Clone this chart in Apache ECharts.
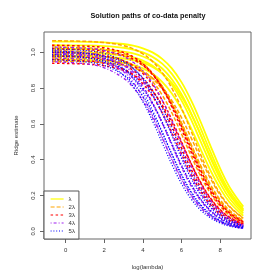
<!DOCTYPE html>
<html><head><meta charset="utf-8">
<script src="https://cdn.jsdelivr.net/npm/echarts@6/dist/echarts.min.js"></script>
<style>html,body{margin:0;padding:0;background:#fff}#c{width:280px;height:280px}</style>
</head><body><div id="c"></div>
<script>
// log(lambda) grid at which the paths are read
const xs = [-0.7, 1, 2, 3, 3.5, 4, 4.5, 5, 5.5, 6, 6.5, 7, 7.5, 8, 8.5, 9.2];
const groupNames = ['λ', '2λ', '3λ', '4λ', '5λ'];
const xTicks = [0, 2, 4, 6, 8];
const yTicks = [0, 0.2, 0.4, 0.6, 0.8, 1.0];
const titleText = 'Solution paths of co-data penalty';
const xName = 'log(lambda)';
const yName = 'Ridge estimate';

const pathsL1 = [
  [1.060, 1.058, 1.055, 1.046, 1.037, 1.022, 0.999, 0.963, 0.910, 0.833, 0.731, 0.609, 0.477, 0.352, 0.245, 0.138],
  [0.980, 0.978, 0.975, 0.965, 0.956, 0.942, 0.918, 0.882, 0.829, 0.753, 0.655, 0.539, 0.417, 0.304, 0.210, 0.117],
  [1.020, 1.018, 1.014, 1.003, 0.993, 0.976, 0.950, 0.909, 0.849, 0.765, 0.659, 0.536, 0.409, 0.295, 0.202, 0.111],
  [1.000, 0.998, 0.993, 0.982, 0.971, 0.953, 0.924, 0.881, 0.818, 0.731, 0.623, 0.500, 0.378, 0.269, 0.182, 0.100],
  [0.960, 0.957, 0.953, 0.941, 0.929, 0.910, 0.880, 0.835, 0.770, 0.682, 0.575, 0.456, 0.340, 0.240, 0.161, 0.087],
  [1.040, 1.038, 1.034, 1.025, 1.015, 0.999, 0.974, 0.936, 0.879, 0.799, 0.695, 0.572, 0.443, 0.322, 0.223, 0.124]
];
const pathsL2 = [
  [1.064, 1.061, 1.054, 1.037, 1.019, 0.991, 0.949, 0.886, 0.799, 0.688, 0.559, 0.427, 0.308, 0.211, 0.139, 0.074],
  [0.969, 0.966, 0.959, 0.942, 0.924, 0.896, 0.854, 0.793, 0.709, 0.604, 0.485, 0.366, 0.261, 0.177, 0.116, 0.061],
  [1.009, 1.005, 0.998, 0.977, 0.957, 0.926, 0.879, 0.810, 0.718, 0.605, 0.480, 0.358, 0.252, 0.170, 0.110, 0.058],
  [1.029, 1.025, 1.016, 0.993, 0.971, 0.936, 0.884, 0.809, 0.711, 0.592, 0.464, 0.342, 0.238, 0.159, 0.103, 0.054],
  [0.949, 0.947, 0.941, 0.927, 0.913, 0.890, 0.855, 0.803, 0.730, 0.635, 0.522, 0.404, 0.295, 0.203, 0.135, 0.072],
  [0.989, 0.985, 0.975, 0.951, 0.928, 0.891, 0.837, 0.761, 0.662, 0.544, 0.421, 0.307, 0.212, 0.140, 0.090, 0.047]
];
const pathsL3 = [
  [1.039, 1.034, 1.025, 0.999, 0.974, 0.936, 0.879, 0.799, 0.695, 0.572, 0.443, 0.322, 0.223, 0.148, 0.095, 0.049],
  [0.939, 0.934, 0.925, 0.899, 0.875, 0.837, 0.782, 0.705, 0.607, 0.494, 0.377, 0.272, 0.186, 0.122, 0.078, 0.041],
  [0.999, 0.993, 0.982, 0.953, 0.924, 0.881, 0.818, 0.731, 0.623, 0.500, 0.378, 0.269, 0.182, 0.119, 0.076, 0.039],
  [0.979, 0.973, 0.961, 0.929, 0.898, 0.853, 0.786, 0.697, 0.587, 0.466, 0.347, 0.245, 0.165, 0.107, 0.068, 0.035],
  [1.019, 1.015, 1.006, 0.984, 0.962, 0.927, 0.875, 0.802, 0.704, 0.586, 0.459, 0.338, 0.236, 0.158, 0.102, 0.053],
  [0.959, 0.952, 0.939, 0.905, 0.873, 0.824, 0.754, 0.662, 0.551, 0.432, 0.319, 0.222, 0.148, 0.096, 0.060, 0.031]
];
const pathsL4 = [
  [1.029, 1.022, 1.010, 0.976, 0.944, 0.896, 0.826, 0.732, 0.617, 0.489, 0.365, 0.257, 0.173, 0.112, 0.071, 0.037],
  [0.988, 0.981, 0.966, 0.928, 0.891, 0.837, 0.761, 0.662, 0.544, 0.421, 0.307, 0.212, 0.140, 0.090, 0.057, 0.029],
  [0.968, 0.959, 0.942, 0.896, 0.854, 0.793, 0.709, 0.604, 0.485, 0.366, 0.261, 0.177, 0.116, 0.074, 0.046, 0.023],
  [1.008, 0.998, 0.977, 0.926, 0.879, 0.810, 0.718, 0.605, 0.480, 0.358, 0.252, 0.170, 0.110, 0.070, 0.044, 0.022],
  [0.947, 0.936, 0.913, 0.855, 0.803, 0.730, 0.635, 0.522, 0.404, 0.295, 0.203, 0.135, 0.087, 0.054, 0.034, 0.017],
  [0.997, 0.984, 0.957, 0.891, 0.832, 0.750, 0.646, 0.525, 0.401, 0.289, 0.198, 0.130, 0.083, 0.052, 0.032, 0.016]
];
const pathsL5 = [
  [0.999, 0.992, 0.978, 0.943, 0.909, 0.858, 0.786, 0.690, 0.574, 0.450, 0.332, 0.232, 0.155, 0.100, 0.063, 0.032],
  [1.018, 1.010, 0.993, 0.950, 0.909, 0.849, 0.765, 0.659, 0.536, 0.409, 0.295, 0.202, 0.133, 0.085, 0.053, 0.027],
  [0.978, 0.969, 0.951, 0.906, 0.863, 0.801, 0.716, 0.610, 0.490, 0.370, 0.264, 0.179, 0.117, 0.074, 0.046, 0.024],
  [0.958, 0.947, 0.926, 0.873, 0.824, 0.754, 0.662, 0.551, 0.432, 0.319, 0.222, 0.148, 0.096, 0.060, 0.038, 0.019],
  [1.007, 0.995, 0.970, 0.909, 0.854, 0.776, 0.675, 0.555, 0.430, 0.313, 0.216, 0.143, 0.092, 0.058, 0.036, 0.018],
  [0.987, 0.972, 0.943, 0.872, 0.809, 0.724, 0.616, 0.495, 0.374, 0.266, 0.181, 0.118, 0.075, 0.047, 0.029, 0.015]
];
const groups = [pathsL1, pathsL2, pathsL3, pathsL4, pathsL5];

// styles
const styles = [
  { color: '#FFFF00', type: 'solid', width: 1.8 },
  { color: '#FFA500', type: [4, 2], width: 1.5 },
  { color: '#FF0000', type: [2.5, 2.5], width: 1.5 },
  { color: '#A020F0', type: [1, 2, 3, 2], width: 1.3 },
  { color: '#0000FF', type: [1, 1.8], width: 1.3 }
];
const FONT = '"Liberation Sans", Arial, Helvetica, sans-serif';

const series = [];
groups.forEach((g, gi) => {
  g.forEach(ys => {
    series.push({
      name: groupNames[gi],
      type: 'line',
      data: xs.map((x, i) => [x, ys[i]]),
      symbol: 'none',
      smooth: 0.4,
      silent: true,
      lineStyle: { color: styles[gi].color, type: styles[gi].type, width: styles[gi].width },
      itemStyle: { color: styles[gi].color }
    });
  });
});

const chart = echarts.init(document.getElementById('c'), null, { renderer: 'canvas' });
chart.setOption({
  animation: false,
  backgroundColor: '#fff',
  grid: { left: 44, right: 29, top: 32, bottom: 41, show: true, borderColor: '#666', borderWidth: 1, backgroundColor: 'transparent' },
  xAxis: {
    type: 'value', min: -1.12, max: 9.6,
    axisLine: { show: false, onZero: false },
    splitLine: { show: false },
    axisTick: { show: true, length: 4, lineStyle: { color: '#666' }, customValues: xTicks },
    axisLabel: { customValues: xTicks, fontSize: 6, color: '#333', margin: 8, fontFamily: FONT },
    name: xName, nameLocation: 'middle', nameGap: 25,
    nameTextStyle: { fontSize: 6, color: '#333', fontFamily: FONT }
  },
  yAxis: {
    type: 'value', min: -0.043, max: 1.113,
    axisLine: { show: false, onZero: false },
    splitLine: { show: false },
    axisTick: { show: true, length: 4, lineStyle: { color: '#666' }, customValues: yTicks },
    axisLabel: { customValues: yTicks, fontSize: 6, color: '#333', margin: 8, rotate: 90, fontFamily: FONT,
      formatter: v => v.toFixed(1) },
    name: yName, nameLocation: 'middle', nameGap: 25, nameRotate: 90,
    nameTextStyle: { fontSize: 6, color: '#333', fontFamily: FONT }
  },
  legend: {
    data: groupNames,
    orient: 'vertical',
    left: 44, top: 191,
    itemWidth: 13, itemHeight: 6, itemGap: 2,
    padding: [5, 4, 5, 6],
    borderColor: '#555', borderWidth: 1, backgroundColor: '#fff',
    selectedMode: false,
    itemStyle: { opacity: 0, borderWidth: 0 },
    lineStyle: { width: 1.2 },
    textStyle: { fontSize: 6, color: '#333', fontFamily: FONT }
  },
  graphic: [{
    type: 'text', x: 148, y: 12,
    style: { text: titleText, font: 'bold 7.3px ' + FONT, fill: '#111', textAlign: 'center' }
  }],
  series: series
});
</script></body></html>
